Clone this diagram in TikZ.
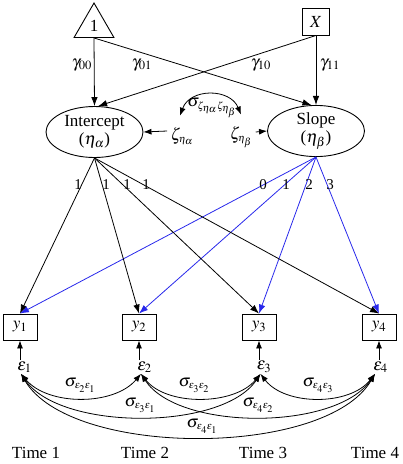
\documentclass[tikz,border=0pt]{standalone}
\usepackage{mathptmx}
\usepackage{fontspec}
\setmainfont{Liberation Serif}
\usetikzlibrary{shapes.geometric,arrows.meta}
\definecolor{lblue}{RGB}{40,40,235}
\newcommand{\ssub}[1]{{\scriptscriptstyle #1}}
\begin{document}
\begin{tikzpicture}[x=1pt,y=-1pt,
  every node/.style={font=\fontsize{17}{18}\selectfont},
  arr/.style={-{Latex[length=9pt,width=6.5pt]},line width=0.8pt},
  arrs/.style={-{Latex[length=8pt,width=6pt]},line width=0.8pt},
  darr/.style={{Latex[length=8pt,width=6pt]}-{Latex[length=8pt,width=6pt]},line width=0.8pt},
  shp/.style={draw,line width=0.9pt,inner sep=0pt},
  obs/.style={shp,minimum width=34pt,minimum height=26pt},
  lat/.style={shp,ellipse,minimum width=97pt,minimum height=51pt,align=center},
  err/.style={inner sep=1pt},
  small/.style={font=\fontsize{15}{16}\selectfont},
  lab/.style={inner sep=0pt}
]
\useasboundingbox (0,0) rectangle (403,464);

% top nodes
\node[shp,regular polygon,regular polygon sides=3,minimum size=46pt] (one) at (94,26) {1};
\node[shp,minimum width=27pt,minimum height=27pt] (X) at (316,21.5) {$X$};

% latent
\node[lat] (icpt) at (94.5,132) {Intercept\\($\eta_\alpha$)};
\node[lat] (slope) at (316,131) {Slope\\($\eta_\beta$)};

% structural paths
\draw[arr] (one.side 2) -- (icpt.north);
\draw[arr] (one.side 2) -- (slope.100);
\draw[arr] (X.south) -- (icpt.82);
\draw[arr] (X.south) -- (slope.north);

\node (g00) at (82,65) {$\gamma_{00}$};
\node (g01) at (142,65) {$\gamma_{01}$};
\node (g10) at (261,65) {$\gamma_{10}$};
\node (g11) at (330,65) {$\gamma_{11}$};

% disturbances
\node (za) at (182,136) {$\zeta_{\ssub{\eta_\alpha}}$};
\node (zb) at (241,137) {$\zeta_{\ssub{\eta_\beta}}$};
\draw[arrs] ([yshift=5pt]za.west) -- (icpt.east);
\draw[arrs] ([yshift=5pt]zb.east) -- (slope.west);
\node (szz) at (212,108) {$\sigma_{\ssub{\zeta_{\eta_\alpha}\zeta_{\eta_\beta}}}$};
\draw[darr] ([xshift=-2pt,yshift=8pt]za.north) .. controls (190,88) and (230,88) .. ([yshift=8pt]zb.north);

% observed
\node[obs] (y1) at (20,327) {$y_1$};
\node[obs] (y2) at (139,327) {$y_2$};
\node[obs] (y3) at (259,327) {$y_3$};
\node[obs] (y4) at (379,327) {$y_4$};

% loadings
\foreach \i in {1,2,3,4} {
  \draw[arr] (icpt.south) -- (y\i.north);
  \draw[arr,lblue] (slope.south) -- (y\i.north);
}
\node[small,lab] (la1) at (78,185) {1};
\node[small,lab] (la2) at (106,185) {1};
\node[small,lab] (la3) at (127,185) {1};
\node[small,lab] (la4) at (146,185) {1};
\node[small,lab] (lb1) at (263,185) {0};
\node[small,lab] (lb2) at (286,185) {1};
\node[small,lab] (lb3) at (309,185) {2};
\node[small,lab] (lb4) at (330,185) {3};

% errors
\node[err] (e1) at (24.5,367) {$\varepsilon_1$};
\node[err] (e2) at (144.5,367) {$\varepsilon_2$};
\node[err] (e3) at (264,367) {$\varepsilon_3$};
\node[err] (e4) at (380.5,367) {$\varepsilon_4$};
\foreach \i in {1,2,3,4} {
  \draw[arrs] (e\i.north -| y\i.south) -- (y\i.south);
}

% error covariances
\coordinate (c1) at ([xshift=-3.5pt]e1.south);
\coordinate (c2) at ([xshift=-3.5pt]e2.south);
\coordinate (c3) at ([xshift=-3.5pt]e3.south);
\coordinate (c4) at ([xshift=-5.5pt]e4.south);
\draw[darr] (c1) .. controls (48,406) and (114,406) .. (c2);
\draw[darr] (c2) .. controls (166,406) and (234,406) .. (c3);
\draw[darr] (c3) .. controls (285,406) and (350,406) .. (c4);
\draw[darr] (c1) .. controls (60,431) and (222,431) .. (c3);
\draw[darr] (c2) .. controls (178,431) and (336,431) .. (c4);
\draw[darr] (c1) .. controls (70,458) and (326,458) .. (c4);

\node[lab] (s21) at (80,385) {$\sigma_{\ssub{\varepsilon_2\varepsilon_1}}$};
\node[lab] (s32) at (194,385) {$\sigma_{\ssub{\varepsilon_3\varepsilon_2}}$};
\node[lab] (s43) at (318,385) {$\sigma_{\ssub{\varepsilon_4\varepsilon_3}}$};
\node[lab] (s31) at (140,405) {$\sigma_{\ssub{\varepsilon_3\varepsilon_1}}$};
\node[lab] (s42) at (258,405) {$\sigma_{\ssub{\varepsilon_4\varepsilon_2}}$};
\node[lab] (s41) at (202,426) {$\sigma_{\ssub{\varepsilon_4\varepsilon_1}}$};

% time labels
\node (t1) at (36,453) {Time 1};
\node (t2) at (145,453) {Time 2};
\node (t3) at (263,453) {Time 3};
\node (t4) at (375,453) {Time 4};
\end{tikzpicture}
\end{document}
